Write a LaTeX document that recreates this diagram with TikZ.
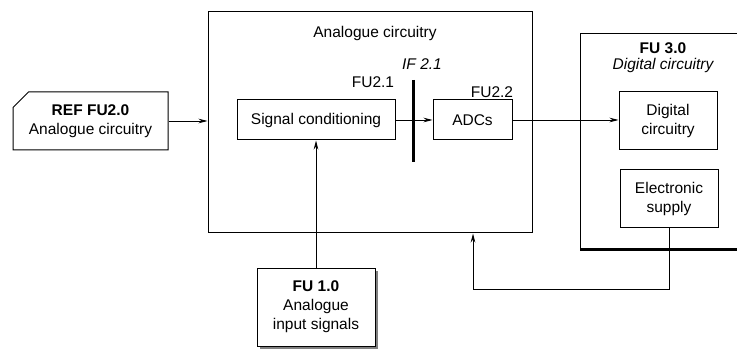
\documentclass[tikz,border=0pt]{standalone}
\usepackage{fontspec}
\setmainfont{Liberation Sans}
\usetikzlibrary{arrows.meta,positioning,shapes.misc,shadows}

\begin{document}
\begin{tikzpicture}[x=1pt,y=-1pt,
  font=\fontsize{15.5}{19}\selectfont,
  box/.style={draw, line width=1pt, fill=white, align=center, inner sep=0pt},
  shbox/.style={box, drop shadow={opacity=1, shadow xshift=2.5pt, shadow yshift=-2.5pt}},
  conn/.style={line width=0.8pt},
  arr/.style={conn, -{Stealth[length=9pt,width=4.5pt]}}]
  \useasboundingbox (0,0) rectangle (737,350);

  % Analogue circuitry (FU 2.0)
  \node[box, minimum width=324pt, minimum height=221pt] (fu2) at (370,122.5) {};
  \node (fu2title) at (375,33) {Analogue circuitry};
  \node[box, minimum width=158pt, minimum height=40pt] (sigcond) at (316,120) {Signal conditioning};
  \node[box, minimum width=79pt, minimum height=40pt] (adc) at (472.5,120) {ADCs};
  \node (fu21) at (373,82) {FU2.1};
  \node (fu22) at (492,92) {FU2.2};
  \node (if21) at (422,64) {\itshape IF 2.1};
  \coordinate (iftop) at (413,80);
  \coordinate (ifbot) at (413,162);
  \draw[line width=3pt] (iftop) -- (ifbot);

  % Digital circuitry (FU 3.0)
  \coordinate (fu3ne) at (745,34);
  \coordinate (fu3nw) at (580,34);
  \coordinate (fu3sw) at (580,249);
  \coordinate (fu3se) at (745,249);
  \draw[line width=1pt] (fu3ne) -- (fu3nw) -- (fu3sw);
  \draw[line width=2.5pt] ([yshift=-0.5pt]fu3sw) -- ([yshift=-0.5pt]fu3se);
  \node (fu3title) at (663,48) {\bfseries FU 3.0};
  \node (fu3sub) at (663,65) {\itshape Digital circuitry};
  \node[box, minimum width=98pt, minimum height=58pt] (digital) at (668,121) {Digital\\circuitry};
  \node[box, minimum width=98pt, minimum height=58pt] (supply) at (669,199) {Electronic\\supply};

  % Inputs
  \node[shbox, minimum width=118pt, minimum height=78pt] (fu1) at (316,307) {\bfseries FU 1.0\\Analogue\\input signals};
  \node[box, chamfered rectangle, chamfered rectangle corners=north west,
    chamfered rectangle xsep=12pt, minimum width=155pt, minimum height=58pt] (ref) at (90.5,121)
    {\bfseries REF FU2.0\\Analogue circuitry};

  % Connections
  \draw[arr] (ref.east) -- (ref.east -| fu2.west);
  \draw[arr] (sigcond) -- (adc);
  \draw[arr] (adc.east) -- (adc.east -| digital.west);
  \draw[arr] (fu1) -- (sigcond);
  \coordinate (fbk) at (473,289);
  \draw[arr] (supply.south) |- (fbk) -- (fbk |- fu2.south);
\end{tikzpicture}
\end{document}
